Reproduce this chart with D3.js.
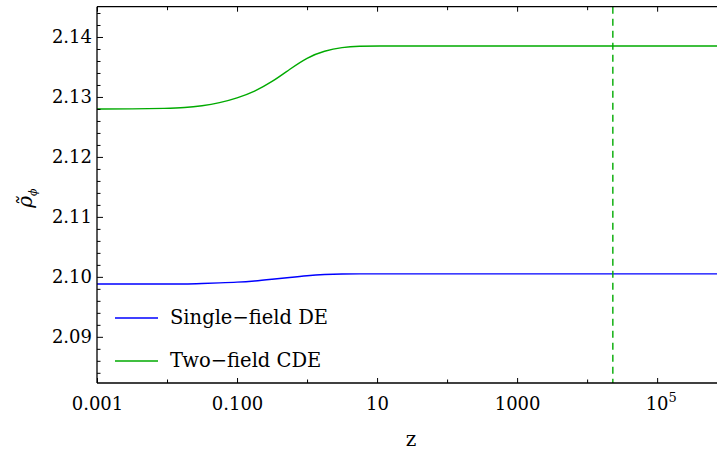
<!DOCTYPE html>
<html>
<head>
<meta charset="utf-8">
<script src="https://cdn.jsdelivr.net/npm/d3@7"></script>
<style>
	body { margin: 0; background: #fff; }
	svg text { font-family: "DejaVu Serif", serif; fill: #000; }
</style>
</head>
<body>
<div id="chart"></div>
<script>
// z sample points (quarter decades) and the two curves
let zValues = [0.001, 0.00316, 0.01, 0.0178, 0.0316, 0.0562, 0.1, 0.178, 0.316, 0.562, 1, 1.78, 3.16, 5.62, 10, 31.6, 100, 1000, 10000, 100000, 740000];
let singleField = [2.0988, 2.0988, 2.0988, 2.0988, 2.0989, 2.0990, 2.0991, 2.0993, 2.0996, 2.0999, 2.1002, 2.1004, 2.1005, 2.1005, 2.1005, 2.1005, 2.1005, 2.1005, 2.1005, 2.1005, 2.1005];
let twoField = [2.1280, 2.1280, 2.1281, 2.1282, 2.1285, 2.1290, 2.1298, 2.1309, 2.1325, 2.1346, 2.1366, 2.1377, 2.1383, 2.1385, 2.1385, 2.1385, 2.1385, 2.1385, 2.1385, 2.1385, 2.1385];
let seriesNames = ["Single\u2212field DE", "Two\u2212field CDE"];
let seriesColors = ["#0000ff", "#00aa00"];
let zMark = 23300;

let xMajor = [0.001, 0.1, 10, 1000, 100000];
let xMinor = [0.01, 1, 100, 10000];
let xLabels = ["0.001", "0.100", "10", "1000", "10^5"];
let yMajor = [2.09, 2.10, 2.11, 2.12, 2.13, 2.14];
let yMinor = [2.084, 2.086, 2.088, 2.092, 2.094, 2.096, 2.098, 2.102, 2.104, 2.106, 2.108, 2.112, 2.114, 2.116, 2.118, 2.122, 2.124, 2.126, 2.128, 2.132, 2.134, 2.136, 2.138, 2.142, 2.144];

let width = 717;
let height = 452;
let plotLeft = 97, plotRight = 718, plotTop = 6.7, plotBottom = 383;

let svg = d3.select('#chart')
	.append('svg')
	.attr('width', width)
	.attr('height', height);

let x = d3.scaleLog()
	.domain([0.001, 740000])
	.range([plotLeft, plotRight]);

let y = d3.scaleLinear()
	.domain([2.0823, 2.14505])
	.range([plotBottom, plotTop]);

// curves
let line = d3.line()
	.x((d, i) => x(zValues[i]))
	.y(d => y(d))
	.curve(d3.curveBasis);

[singleField, twoField].forEach(function (s, i) {
	svg.append('path')
		.attr('d', line(s))
		.attr('fill', 'none')
		.attr('stroke', seriesColors[i])
		.attr('stroke-width', 1.4);
});

// dashed marker
svg.append('line')
	.attr('x1', x(zMark)).attr('x2', x(zMark))
	.attr('y1', plotTop).attr('y2', plotBottom)
	.attr('stroke', seriesColors[1])
	.attr('stroke-width', 1.4)
	.attr('stroke-dasharray', '7,5');

// frame
let frame = svg.append('g').attr('stroke', '#000').attr('stroke-width', 1.3);
frame.append('line').attr('x1', plotLeft).attr('x2', plotLeft).attr('y1', plotTop).attr('y2', plotBottom);
frame.append('line').attr('x1', plotLeft).attr('x2', width).attr('y1', plotBottom).attr('y2', plotBottom);
frame.append('line').attr('x1', plotLeft).attr('x2', width).attr('y1', plotTop).attr('y2', plotTop);

function styleAxis(g) {
	g.select('.domain').remove();
	g.selectAll('.tick line').attr('stroke', '#000').attr('stroke-width', 1);
	g.selectAll('text').attr('font-size', 18).attr('font-family', '"DejaVu Serif", serif');
}

// x axis bottom
let xAxis = svg.append('g')
	.attr('transform', 'translate(0,' + plotBottom + ')')
	.call(d3.axisBottom(x).tickValues(xMajor).tickSizeInner(-5).tickSizeOuter(0).tickPadding(9).tickFormat(''))
	.call(styleAxis);
xAxis.selectAll('.tick').each(function (d, i) {
	let t = d3.select(this).select('text').text(null).attr('dy', null).attr('y', 27);
	let lab = xLabels[i];
	if (lab.indexOf('^') > 0) {
		let parts = lab.split('^');
		t.append('tspan').text(parts[0]);
		t.append('tspan').attr('dy', -8).attr('font-size', 13).text(parts[1]);
		t.attr('text-anchor', 'start').attr('x', -12);
	} else {
		t.text(lab);
	}
});
svg.append('g')
	.attr('transform', 'translate(0,' + plotBottom + ')')
	.call(d3.axisBottom(x).tickValues(xMinor).tickSizeInner(-3.5).tickSizeOuter(0).tickFormat(''))
	.call(styleAxis);

// x axis top (mirror ticks)
svg.append('g')
	.attr('transform', 'translate(0,' + plotTop + ')')
	.call(d3.axisTop(x).tickValues(xMajor).tickSizeInner(-5).tickSizeOuter(0).tickFormat(''))
	.call(styleAxis);
svg.append('g')
	.attr('transform', 'translate(0,' + plotTop + ')')
	.call(d3.axisTop(x).tickValues(xMinor).tickSizeInner(-3.5).tickSizeOuter(0).tickFormat(''))
	.call(styleAxis);

// y axis
svg.append('g')
	.attr('transform', 'translate(' + plotLeft + ',0)')
	.call(d3.axisLeft(y).tickValues(yMajor).tickSizeInner(-6).tickSizeOuter(0).tickPadding(5).tickFormat(d3.format('.2f')))
	.call(styleAxis);
svg.append('g')
	.attr('transform', 'translate(' + plotLeft + ',0)')
	.call(d3.axisLeft(y).tickValues(yMinor).tickSizeInner(-3.5).tickSizeOuter(0).tickFormat(''))
	.call(styleAxis);

// axis titles
svg.append('text')
	.attr('x', 411)
	.attr('y', 446)
	.attr('text-anchor', 'middle')
	.attr('font-size', 20)
	.text('z');

let yt = svg.append('text')
	.attr('transform', 'translate(32,198) rotate(-90)')
	.attr('text-anchor', 'middle')
	.attr('font-size', 20);
yt.append('tspan').attr('font-style', 'italic').text('\u03c1\u0303');
yt.append('tspan').attr('font-style', 'italic').attr('font-size', 11).attr('dy', 5).text('\u03d5');

// legend
let legend = svg.append('g');
seriesNames.forEach(function (name, i) {
	let ly = 318 + i * 43;
	legend.append('line')
		.attr('x1', 115).attr('x2', 158)
		.attr('y1', ly).attr('y2', ly)
		.attr('stroke', seriesColors[i])
		.attr('stroke-width', 1.4);
	legend.append('text')
		.attr('x', 170)
		.attr('y', ly + 6)
		.attr('font-size', 19.5)
		.text(name);
});
</script>
</body>
</html>
